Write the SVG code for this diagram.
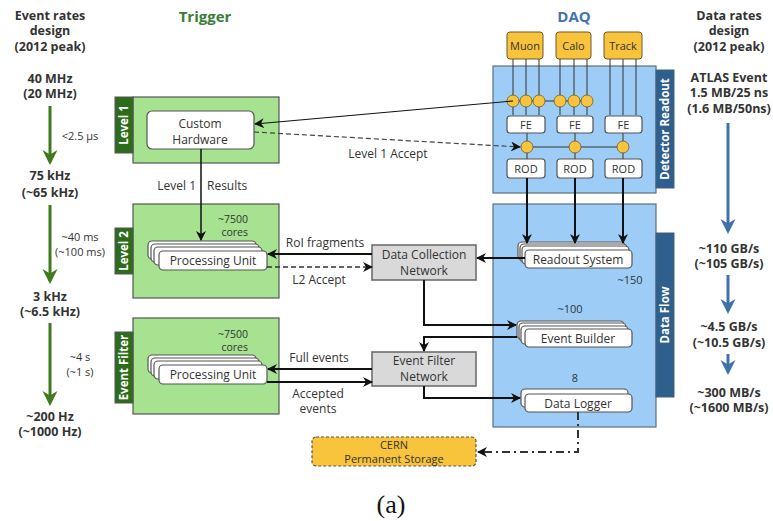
<svg xmlns="http://www.w3.org/2000/svg" width="773" height="521" viewBox="0 0 773 521">
<style>
text{font-family:"Open Sans","Noto Sans","DejaVu Sans",sans-serif;fill:#333;}
.h{font-weight:bold;font-size:12.5px;text-anchor:middle;fill:#333;}
.t{font-size:12px;text-anchor:middle;}
.s{font-size:11px;text-anchor:middle;}
.g{fill:#a6e28f;stroke:#555;stroke-width:1.2;}
.gt{fill:#2e6b1c;stroke:#555;stroke-width:1;}
.b{fill:#9dcdf6;stroke:#5b6f80;stroke-width:1.2;}
.bt{fill:#2f5f8c;stroke:#44607a;stroke-width:1;}
.tab{font-weight:bold;font-size:11.5px;fill:#fff;text-anchor:middle;}
.w{fill:#fff;stroke:#555;stroke-width:1.2;}
.o{fill:#f7c43b;stroke:#6b5a2a;stroke-width:1;}
.n{fill:#d9d9d9;stroke:#666;stroke-width:1.5;}
.dot{fill:#f7c43b;stroke:#6b5a2a;stroke-width:0.8;}
.ln{fill:none;stroke:#333;stroke-width:1;}
.c1{fill:none;stroke:#111;stroke-width:1.2;}
.c2{fill:none;stroke:#111;stroke-width:2;}
.ga{stroke:#3f7a1f;stroke-width:3;fill:none;}
.ba{stroke:#3d72ab;stroke-width:3;fill:none;}
</style>
<defs>
<marker id="ahl" viewBox="0 0 10 10" refX="9" refY="5" markerWidth="10" markerHeight="10" orient="auto" markerUnits="userSpaceOnUse">
<path d="M0,0 L10,5 L0,10 L3,5 z" fill="#111"/>
</marker>
<marker id="ahg" viewBox="0 0 10 10" refX="8" refY="5" markerWidth="5" markerHeight="6" orient="auto" markerUnits="strokeWidth">
<path d="M0,0 L10,5 L0,10 L3,5 z" fill="#3f7a1f"/>
</marker>
<marker id="ahbl" viewBox="0 0 10 10" refX="8" refY="5" markerWidth="5" markerHeight="6" orient="auto" markerUnits="strokeWidth">
<path d="M0,0 L10,5 L0,10 L3,5 z" fill="#3d72ab"/>
</marker>
</defs>

<!-- left rates column -->
<g id="event-rates">
<text class="h" x="50" y="20">Event rates</text>
<text class="h" x="50" y="35">design</text>
<text class="h" x="50" y="51">(2012 peak)</text>
<text class="h" x="50" y="83">40 MHz</text>
<text class="h" x="50" y="98">(20 MHz)</text>
<path class="ga" d="M50,106 V162" marker-end="url(#ahg)"/>
<text class="s" x="80" y="140">&lt;2.5 µs</text>
<text class="h" x="50" y="180">75 kHz</text>
<text class="h" x="50" y="197">(~65 kHz)</text>
<path class="ga" d="M50,205 V281" marker-end="url(#ahg)"/>
<text class="s" x="80" y="241">~40 ms</text>
<text class="s" x="80" y="256">(~100 ms)</text>
<text class="h" x="50" y="301">3 kHz</text>
<text class="h" x="50" y="316">(~6.5 kHz)</text>
<path class="ga" d="M50,323 V403" marker-end="url(#ahg)"/>
<text class="s" x="80" y="361">~4 s</text>
<text class="s" x="80" y="376">(~1 s)</text>
<text class="h" x="50" y="421">~200 Hz</text>
<text class="h" x="50" y="436">(~1000 Hz)</text>
</g>

<!-- right data rates column -->
<g id="data-rates">
<text class="h" x="729" y="20">Data rates</text>
<text class="h" x="729" y="35">design</text>
<text class="h" x="729" y="51">(2012 peak)</text>
<text class="h" x="729" y="82">ATLAS Event</text>
<text class="h" x="729" y="97">1.5 MB/25 ns</text>
<text class="h" x="729" y="113">(1.6 MB/50ns)</text>
<path class="ba" d="M728,123 V231" marker-end="url(#ahbl)"/>
<text class="h" x="729" y="253">~110 GB/s</text>
<text class="h" x="729" y="268">(~105 GB/s)</text>
<path class="ba" d="M728,275 V311" marker-end="url(#ahbl)"/>
<text class="h" x="729" y="331">~4.5 GB/s</text>
<text class="h" x="729" y="347">(~10.5 GB/s)</text>
<path class="ba" d="M728,354 V372" marker-end="url(#ahbl)"/>
<text class="h" x="729" y="397">~300 MB/s</text>
<text class="h" x="729" y="412">(~1600 MB/s)</text>
</g>

<!-- titles -->
<text x="205" y="22" style="font-weight:bold;font-size:15px;fill:#3a7d3a;text-anchor:middle">Trigger</text>
<text x="574" y="22" style="font-weight:bold;font-size:15px;fill:#3f74b0;text-anchor:middle">DAQ</text>

<!-- Level 1 -->
<g id="level1">
<rect class="g" x="133" y="97" width="146" height="66"/>
<rect class="gt" x="115" y="97" width="18" height="56"/>
<text class="tab" transform="translate(128,125) rotate(-90)">Level 1</text>
</g>
<g id="custom-hardware">
<rect class="w" x="147" y="111" width="107" height="38" rx="5"/>
<text class="t" x="200" y="128">Custom</text>
<text class="t" x="200" y="144">Hardware</text>
</g>

<!-- Level 2 -->
<g id="level2">
<rect class="g" x="133" y="204" width="146" height="94"/>
<rect class="gt" x="115" y="228" width="18" height="46"/>
<text class="tab" transform="translate(128,251) rotate(-90)">Level 2</text>
<text x="248" y="223" style="font-size:10.5px;text-anchor:end">~7500</text>
<text x="248" y="236" style="font-size:10.5px;text-anchor:end">cores</text>
</g>
<g id="l2-processing-unit">
<rect class="w" x="148" y="241" width="108" height="18" rx="4"/>
<rect class="w" x="151" y="244" width="108" height="18" rx="4"/>
<rect class="w" x="154" y="247" width="108" height="18" rx="4"/>
<rect class="w" x="159" y="251" width="108" height="19" rx="4"/>
<text class="t" x="213" y="265">Processing Unit</text>
</g>

<!-- Event Filter -->
<g id="event-filter">
<rect class="g" x="133" y="318" width="146" height="96"/>
<rect class="gt" x="115" y="332" width="18" height="71"/>
<text class="tab" transform="translate(128,367.5) rotate(-90)">Event Filter</text>
<text x="248" y="338" style="font-size:10.5px;text-anchor:end">~7500</text>
<text x="248" y="351" style="font-size:10.5px;text-anchor:end">cores</text>
</g>
<g id="ef-processing-unit">
<rect class="w" x="148" y="355" width="108" height="18" rx="4"/>
<rect class="w" x="151" y="358" width="108" height="18" rx="4"/>
<rect class="w" x="154" y="361" width="108" height="18" rx="4"/>
<rect class="w" x="159" y="365" width="108" height="19" rx="4"/>
<text class="t" x="213" y="379">Processing Unit</text>
</g>

<!-- networks -->
<g id="data-collection-network">
<rect class="n" x="372" y="245" width="104" height="35"/>
<text class="t" x="424" y="259">Data Collection</text>
<text class="t" x="424" y="275">Network</text>
</g>
<g id="event-filter-network">
<rect class="n" x="372" y="352" width="104" height="34"/>
<text class="t" x="424" y="365">Event Filter</text>
<text class="t" x="424" y="381">Network</text>
</g>

<!-- detectors -->
<g id="muon"><rect class="o" x="507" y="32" width="36" height="27" rx="3"/><text class="s" x="525" y="50">Muon</text></g>
<g id="calo"><rect class="o" x="556" y="32" width="35" height="27" rx="3"/><text class="s" x="573.5" y="50">Calo</text></g>
<g id="track"><rect class="o" x="604" y="32" width="38" height="27" rx="3"/><text class="s" x="623" y="50">Track</text></g>

<!-- Detector Readout -->
<g id="detector-readout">
<rect class="b" x="493" y="66" width="163" height="127"/>
<rect class="bt" x="656" y="70" width="18" height="118"/>
<text class="tab" transform="translate(669,129) rotate(-90)">Detector Readout</text>
<path class="ln" d="M513,59 V115 M526,59 V115 M539,59 V115 M560,59 V115 M574,59 V115 M587,59 V115 M610,59 V115 M623,59 V115 M636,59 V115 M513,101 H587 M527,133 V159 M575,133 V159 M623,133 V159 M527,147 H623"/>
<circle class="dot" cx="513" cy="101" r="6"/>
<circle class="dot" cx="526" cy="101" r="6"/>
<circle class="dot" cx="539" cy="101" r="6"/>
<circle class="dot" cx="560" cy="101" r="6"/>
<circle class="dot" cx="574" cy="101" r="6"/>
<circle class="dot" cx="587" cy="101" r="6"/>
<circle class="dot" cx="527" cy="147" r="6"/>
<circle class="dot" cx="575" cy="147" r="6"/>
<circle class="dot" cx="623" cy="147" r="6"/>
</g>
<g id="fe1"><rect class="w" x="507" y="116" width="38" height="17" rx="3"/><text class="s" x="526" y="129">FE</text></g>
<g id="fe2"><rect class="w" x="557" y="116" width="36" height="17" rx="3"/><text class="s" x="575" y="129">FE</text></g>
<g id="fe3"><rect class="w" x="605" y="116" width="37" height="17" rx="3"/><text class="s" x="623.5" y="129">FE</text></g>
<g id="rod1"><rect class="w" x="507" y="159" width="38" height="19" rx="3"/><text class="s" x="526" y="173">ROD</text></g>
<g id="rod2"><rect class="w" x="557" y="159" width="36" height="19" rx="3"/><text class="s" x="575" y="173">ROD</text></g>
<g id="rod3"><rect class="w" x="605" y="159" width="37" height="19" rx="3"/><text class="s" x="623.5" y="173">ROD</text></g>

<!-- Data Flow -->
<g id="data-flow">
<rect class="b" x="493" y="204" width="163" height="223"/>
<rect class="bt" x="656" y="233" width="18" height="164"/>
<text class="tab" transform="translate(669,315) rotate(-90)">Data Flow</text>
<text class="s" x="630" y="284">~150</text>
<text class="s" x="570" y="313">~100</text>
<text class="s" x="575" y="382">8</text>
</g>
<g id="readout-system">
<rect class="w" x="518" y="242" width="107" height="18" rx="4"/>
<rect class="w" x="520" y="244" width="107" height="18" rx="4"/>
<rect class="w" x="522" y="246" width="107" height="18" rx="4"/>
<rect class="w" x="525" y="250" width="107" height="18" rx="4"/>
<text class="t" x="578" y="264">Readout System</text>
</g>
<g id="event-builder">
<rect class="w" x="517" y="321" width="107" height="18" rx="4"/>
<rect class="w" x="519" y="323" width="107" height="18" rx="4"/>
<rect class="w" x="521" y="326" width="107" height="18" rx="4"/>
<rect class="w" x="525" y="329" width="107" height="18" rx="4"/>
<text class="t" x="578" y="343">Event Builder</text>
</g>
<g id="data-logger">
<rect class="w" x="521" y="389" width="107" height="18" rx="4"/>
<rect class="w" x="525" y="394" width="107" height="18" rx="4"/>
<text class="t" x="578" y="408">Data Logger</text>
</g>

<!-- CERN -->
<g id="cern-storage">
<rect x="312" y="437" width="164" height="29" rx="4" style="fill:#f7c43b;stroke:#555;stroke-width:1.2;stroke-dasharray:3,2"/>
<text class="s" x="394" y="449">CERN</text>
<text class="s" x="394" y="463">Permanent Storage</text>
</g>

<!-- connectors -->
<g id="connectors">
<path class="c1" d="M513,101 L255,124" marker-end="url(#ahl)"/>
<path class="c1" d="M254,132 L520,147" stroke-dasharray="5,3" style="stroke:#444" marker-end="url(#ahl)"/>
<path class="c2" d="M201,149 V240" style="stroke-width:1.5" marker-end="url(#ahl)"/>
<path class="c2" d="M527,178 V243" marker-end="url(#ahl)"/>
<path class="c2" d="M575,178 V243" marker-end="url(#ahl)"/>
<path class="c2" d="M623,178 V243" marker-end="url(#ahl)"/>
<path class="c2" d="M525,258 H477" marker-end="url(#ahl)"/>
<path class="c2" d="M372,254 H268" marker-end="url(#ahl)"/>
<path class="c2" d="M267,267 H372" style="stroke-width:1.5;stroke:#333" stroke-dasharray="5,3" marker-end="url(#ahl)"/>
<path class="c2" d="M424,280 V325 H516" marker-end="url(#ahl)"/>
<path class="c2" d="M517,337 H424 V351" marker-end="url(#ahl)"/>
<path class="c2" d="M372,369 H268" marker-end="url(#ahl)"/>
<path class="c2" d="M267,382 H372" marker-end="url(#ahl)"/>
<path class="c2" d="M424,386 V398 H520" marker-end="url(#ahl)"/>
<path class="c2" d="M578,412 V452 H478" style="stroke:#333" stroke-dasharray="8,4,2,4" marker-end="url(#ahl)"/>
<text class="t" x="196" y="190" style="text-anchor:end">Level 1</text>
<text class="t" x="207" y="190" style="text-anchor:start">Results</text>
<text class="t" x="388" y="158">Level 1 Accept</text>
<text class="t" x="325" y="247">RoI fragments</text>
<text class="t" x="319" y="284">L2 Accept</text>
<text class="t" x="319" y="362">Full events</text>
<text class="t" x="318" y="398">Accepted</text>
<text class="t" x="318" y="413">events</text>
</g>

<text x="391" y="513" style="font-family:'Liberation Serif','DejaVu Serif',serif;font-size:26px;text-anchor:middle;fill:#111">(a)</text>
</svg>
